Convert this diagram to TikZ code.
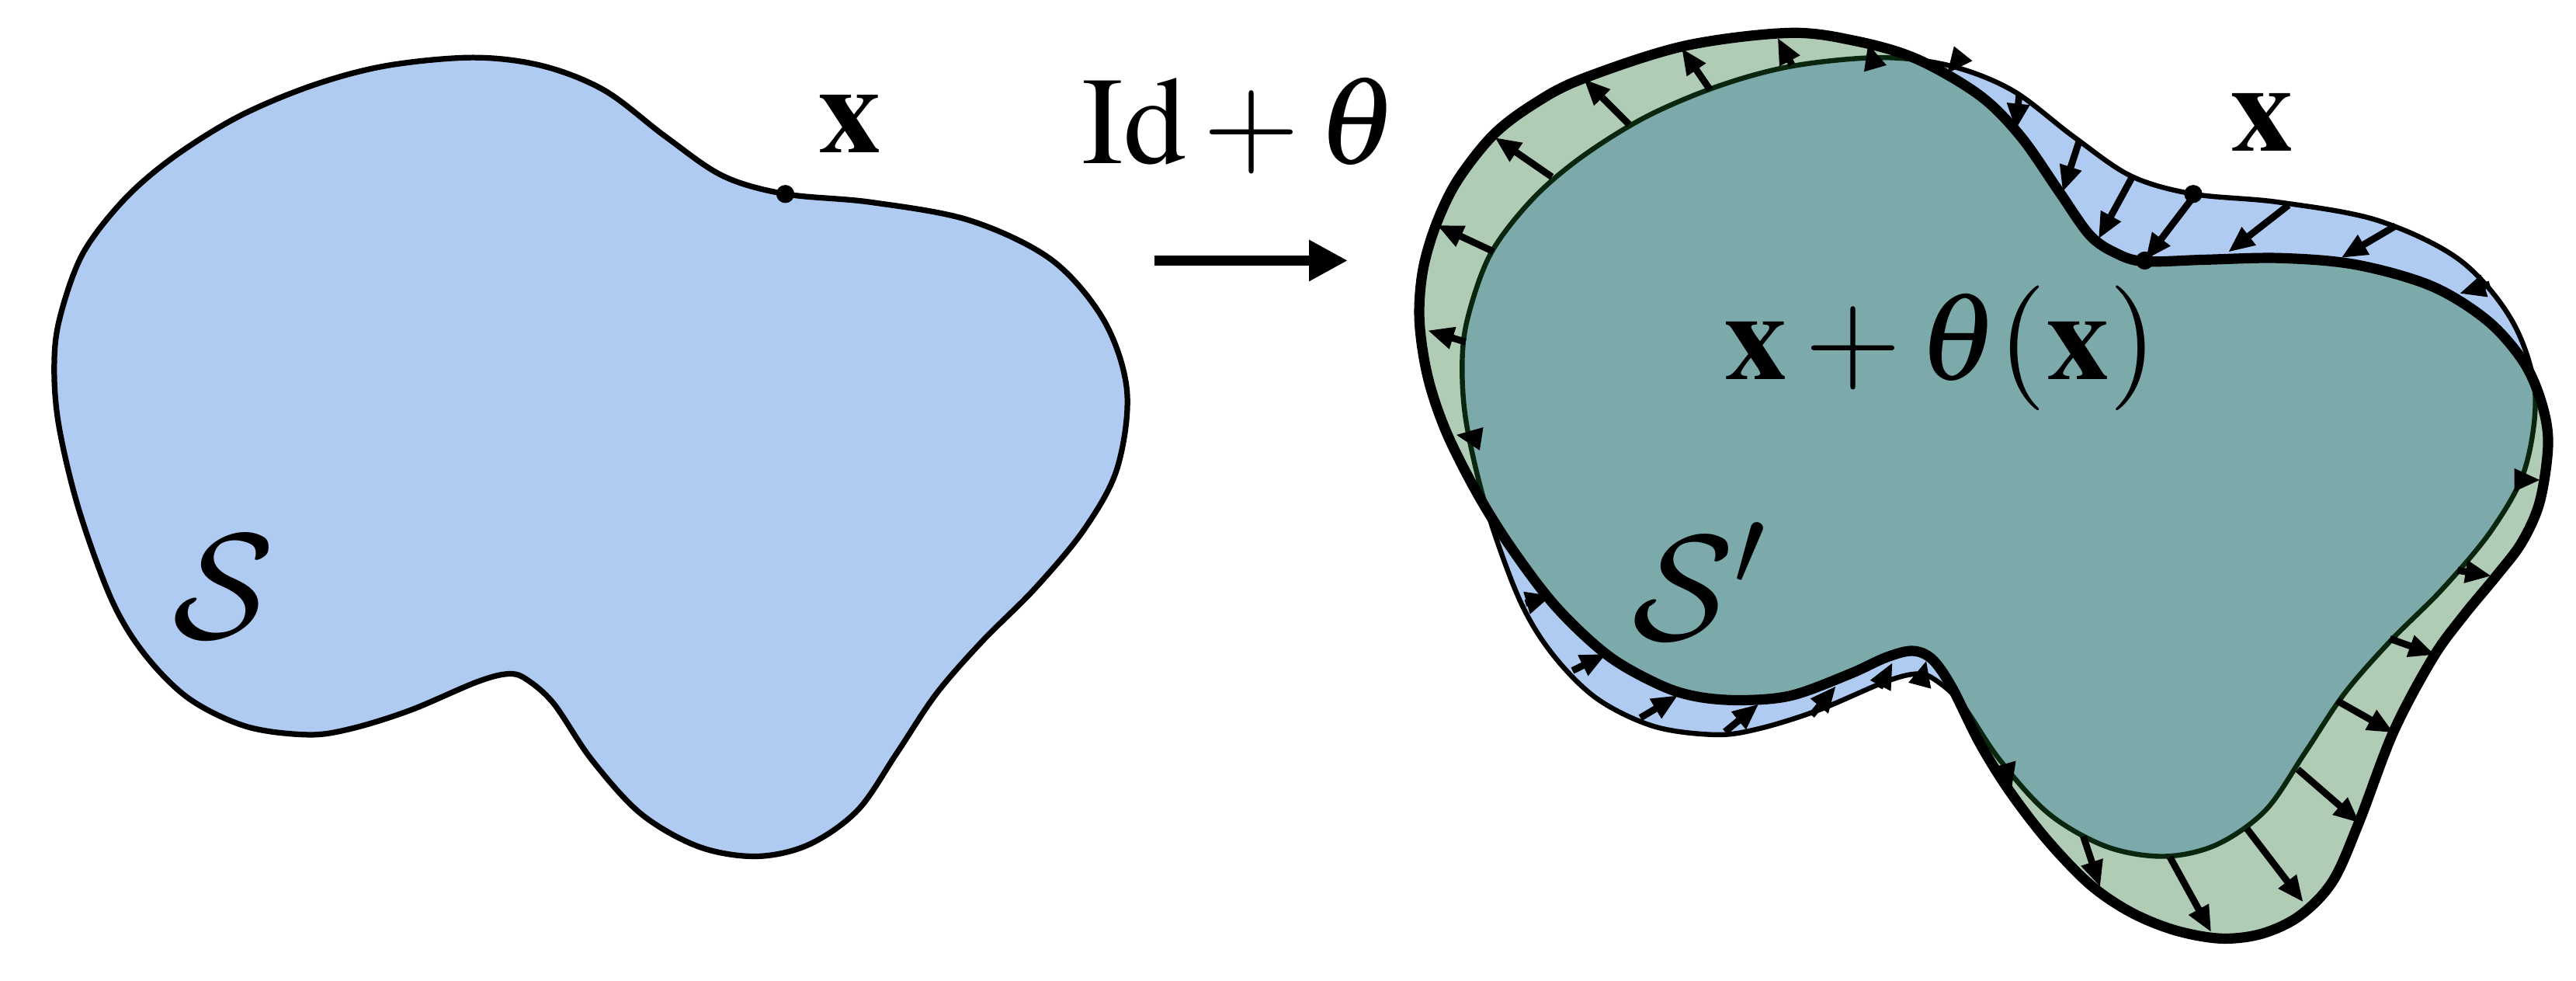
\documentclass[tikz,border=0pt]{standalone}
\usepackage{mathptmx}
\DeclareMathAlphabet{\mathcmcal}{OMS}{cmsy}{m}{n}
\usetikzlibrary{arrows.meta}
\definecolor{sblue}{RGB}{175,203,241}
\definecolor{sgreen}{RGB}{29,109,41}
\def\pathS{plot[smooth cycle, tension=0.55] coordinates {(288,35) (330,40) (368,55) (405,83) (440,107) (478,118) (530,123) (590,134) (640,158) (672,195) (686,238) (680,285) (660,322) (630,358) (598,390) (570,422) (546,458) (522,493) (492,514) (460,521) (425,515) (390,495) (360,462) (337,428) (320,413) (309,410) (290,415) (250,432) (215,443) (188,447) (150,442) (115,425) (88,398) (68,365) (48,310) (36,260) (33,225) (36,195) (50,155) (75,122) (105,96) (145,71) (190,52) (235,40)}}
\def\pathSp{plot[smooth cycle, tension=0.55] coordinates {(1089,20) (1130,25) (1167,36) (1205,58) (1230,83) (1253,116) (1272,143) (1288,154) (1305,159) (1342,158) (1388,157) (1434,161) (1480,174) (1514,195) (1536,220) (1547,245) (1551,270) (1546,305) (1535,330) (1519,351) (1500,374) (1481,400) (1457,445) (1436,500) (1420,536) (1400,557) (1377,568) (1352,571) (1324,566) (1297,555) (1272,538) (1246,511) (1223,481) (1205,452) (1188,418) (1176,401) (1164,396) (1148,400) (1126,410) (1091,423) (1061,426) (1034,424) (1011,417) (979,399) (947,369) (919,332) (898,298) (880,262) (869,229) (864,195) (866,165) (874,137) (887,110) (909,82) (934,63) (963,48) (1025,28)}}
\begin{document}
\begin{tikzpicture}[x=0.1316pt,y=-0.1316pt,
  thinS/.style={line width=0.40pt},
  thickS/.style={line width=0.82pt},
  disp/.style={line width=0.55pt,-{Triangle[length=2.1pt,width=1.7pt]}},
  lbl/.style={inner sep=0pt,font=\fontsize{10}{12}\selectfont},
  slbl/.style={inner sep=0pt,font=\fontsize{12}{14}\selectfont}]
\useasboundingbox (0,0) rectangle (1568,596.4);
% ---- left shape S
\fill[sblue] \pathS;
\draw[line width=0.45pt] \pathS;
\fill (478,118) circle[radius=5.5];
\node[lbl,anchor=base] (xl) at (517.5,93) {$\mathbf{x}$};
\node[slbl,anchor=base] (sl) at (136,388) {$\mathcmcal{S}$};
% ---- map arrow
\coordinate (mapA) at (702.6,158.5);
\coordinate (mapB) at (820.4,158.5);
\draw[line width=0.76pt,-{Triangle[length=3.1pt,width=3.1pt]}] (mapA) -- (mapB);
\node[lbl,anchor=base] (idtheta) at (754.5,99.6) {$\mathrm{Id}+\theta$};
% ---- right: S and S'
\begin{scope}[shift={(857,0)}]
  \fill[sblue] \pathS;
  \draw[thinS] \pathS;
\end{scope}
\fill[sgreen,fill opacity=0.35] \pathSp;
\draw[thickS] \pathSp;
% displacement arrows
\foreach \a/\b/\c/\d in {
  893/265.6/886/264.5, 892/208/869/201, 909/153/874.7/137, 944.6/107.6/909.8/83.6,
  991.5/75.6/964/48, 1040.8/54.5/1023.6/29.3, 1090.7/39.4/1082/22.9, 1138.8/32.5/1137/26.3,
  1189/40/1185/45, 1229/58.4/1226.9/79, 1265.8/85.2/1255.5/116.8, 1297.9/107.6/1277.3/145.4,
  1336.4/118/1305.9/158, 1393/124.8/1356.3/153.4, 1458.2/137.4/1425/156.9, 1515.5/172.9/1497/178.6,
  1532.7/292/1546.4/292, 1496/347/1516.6/350.4, 1454.7/388.6/1482.2/398.4, 1422.7/426.4/1457/445.8,
  1398.6/468/1436.4/500.8, 1367.7/504.2/1402/548.9, 1320.8/521.4/1346/567.2, 1268.1/508.8/1278.4/539.7,
  1222.3/472.2/1224.6/480.2,
  1170.3/410.4/1172.6/401.7, 1144/418.4/1152/403, 1102.7/435.2/1117.6/417.3, 1050/445.2/1070.6/428.3,
  998.5/436.7/1021.4/423, 957.2/408/977.8/397.8, 928.6/367/944.6/362.3}
  {\draw[disp] (\a,\b) -- (\c,\d);}
\fill (1335,118) circle[radius=5.5];
\fill (1305.5,158.5) circle[radius=5.5];
\node[lbl,anchor=base] (xr) at (1377,92) {$\mathbf{x}$};
\node[lbl,anchor=base] (xt) at (1181.5,231) {$\mathbf{x}+\theta(\mathbf{x})$};
\node[slbl,anchor=base west] (sp) at (992,389) {$\mathcmcal{S}'$};
\end{tikzpicture}
\end{document}
